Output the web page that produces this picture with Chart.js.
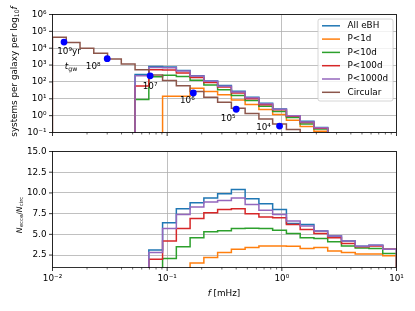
<!DOCTYPE html>
<html>
<head>
<meta charset="utf-8">
<script src="https://cdn.jsdelivr.net/npm/chart.js@4.4.1/dist/chart.umd.min.js"></script>
<style>
  html, body { margin: 0; padding: 0; background: #fff; }
  #wrap { position: relative; width: 415px; height: 311px; }
  #wrap canvas { position: absolute; left: 0; top: 0; }
</style>
</head>
<body>
<div id="wrap">
  <canvas id="countChart" width="415" height="311"></canvas>
  <canvas id="ratioChart" width="415" height="311"></canvas>
</div>
<script>
// 25 log-spaced frequency bins from 10^-2 to 10^1 mHz (edges)
const binEdges = [0.01, 0.01318, 0.01738, 0.02291, 0.03020, 0.03981, 0.05248, 0.06918,
  0.09120, 0.12023, 0.15849, 0.20893, 0.27542, 0.36308, 0.47863, 0.63096, 0.83176,
  1.09648, 1.44544, 1.90546, 2.51189, 3.31131, 4.36516, 5.75440, 7.58578, 10];

// systems per galaxy per log10 f (null = empty bin)
const countCircular = [45000, 22000, 10000, 5100, 2300, 1150, 520, 260, 120, 59, 27, 12.3,
  6.2, 2.7, 1.35, 0.63, 0.32, 0.15, 0.07, 0.035, 0.016, 0.008, 0.004, 0.002, 0.001];
const countAll = [null, null, null, null, null, null, 280, 810, 780, 470, 235, 115,
  61, 28, 12.5, 5.5, 2.5, 0.97, 0.46, 0.2, 0.075, 0.034, 0.014, 0.0074, 0.0032];
const countP1 = [null, null, null, null, null, null, null, null, 14, 14, 42, 27,
  17.5, 8.6, 4.6, 2.3, 1.15, 0.53, 0.23, 0.12, 0.048, 0.022, 0.0105, 0.0052, 0.0024];
const countP10 = [null, null, null, null, null, null, 9, 200, 250, 207, 124, 65,
  34, 15.4, 7.8, 3.6, 1.76, 0.77, 0.32, 0.16, 0.066, 0.029, 0.013, 0.0066, 0.0027];
const countP100 = [null, null, null, null, null, null, 58, 530, 505, 340, 186, 93,
  50, 22, 10, 4.5, 2.2, 0.93, 0.39, 0.18, 0.074, 0.031, 0.014, 0.0072, 0.0032];
const countP1000 = [null, null, null, null, null, null, 230, 730, 690, 440, 225, 110,
  56, 25, 11.6, 5.0, 2.4, 1.0, 0.42, 0.19, 0.077, 0.034, 0.014, 0.0074, 0.0032];

// N_ecc / N_circ per bin (null = below the plotted range)
const ratioAll = [null, null, null, null, null, null, null, 3.1, 6.4, 8.1, 8.8, 9.4,
  9.9, 10.4, 9.3, 8.7, 8.0, 6.3, 6.2, 5.4, 4.8, 4.2, 3.55, 3.7, 3.2];
const ratioP1 = [null, null, null, null, null, null, null, null, null, null, 1.55, 2.22,
  2.82, 3.2, 3.4, 3.6, 3.6, 3.55, 3.3, 3.4, 3.0, 2.8, 2.62, 2.62, 2.42];
const ratioP10 = [null, null, null, null, null, null, null, null, 2.1, 3.5, 4.6, 5.3,
  5.45, 5.7, 5.75, 5.7, 5.5, 5.1, 4.6, 4.5, 4.1, 3.6, 3.35, 3.3, 2.7];
const ratioP100 = [null, null, null, null, null, null, null, 2.0, 4.2, 5.7, 6.9, 7.6,
  8.0, 8.1, 7.5, 7.1, 7.0, 6.2, 5.6, 5.1, 4.6, 3.9, 3.5, 3.6, 3.2];
const ratioP1000 = [null, null, null, null, null, null, null, 2.8, 5.7, 7.4, 8.3, 8.9,
  9.1, 9.4, 8.6, 7.9, 7.4, 6.6, 6.0, 5.4, 4.8, 4.2, 3.55, 3.7, 3.2];

// gravitational-wave inspiral time markers
const tgwF = [0.0126, 0.030, 0.071, 0.169, 0.40, 0.955];
const tgwN = [23000, 2400, 230, 22, 2.4, 0.24];
const tgwLabels = ['10⁹yr', '10⁸', '10⁷', '10⁶', '10⁵', '10⁴'];

const seriesNames = ['All eBH', 'P<1d', 'P<10d', 'P<100d', 'P<1000d', 'Circular'];
const countTicks = [0.1, 1, 10, 100, 1e3, 1e4, 1e5, 1e6];
const ratioTicks = [2.5, 5, 7.5, 10, 12.5, 15];
const freqTicks = [];
[0.01, 0.1, 1].forEach(d => { for (let k = 1; k <= 9; k++) freqTicks.push(+(d * k).toPrecision(3)); });
freqTicks.push(10);

const COLORS = ['#1f77b4', '#ff7f0e', '#2ca02c', '#d62728', '#9467bd', '#8c564b'];
const FONT = '"DejaVu Sans", sans-serif';
const FS = 8.8;
const GRID = '#b0b0b0';

Chart.defaults.font.family = FONT;
Chart.defaults.font.size = FS;
Chart.defaults.color = '#000';

const SUP = { '-': '⁻', '0': '⁰', '1': '¹', '2': '²', '3': '³', '4': '⁴', '5': '⁵', '6': '⁶', '7': '⁷', '8': '⁸', '9': '⁹' };

function isDecade(v) {
    const l = Math.log10(v);
    return Math.abs(l - Math.round(l)) < 1e-6;
}

function powLabel(v) {
    const e = String(Math.round(Math.log10(v)));
    return '10' + e.split('').map(c => SUP[c]).join('');
}

// step outline of a histogram: rise from below the axis, hold each bin, drop at the end
function histLine(values, floor) {
    const first = values.findIndex(v => v !== null);
    const pts = [{ x: binEdges[first], y: floor }];
    for (let i = first; i < values.length; i++) pts.push({ x: binEdges[i], y: values[i] });
    const end = binEdges[values.length];
    pts.push({ x: end, y: values[values.length - 1] });
    pts.push({ x: end, y: floor });
    return pts;
}

function stepSet(label, values, color, order, floor) {
    return {
        label,
        data: histLine(values, floor),
        borderColor: color,
        backgroundColor: color,
        borderWidth: 1.5,
        pointRadius: 0,
        stepped: 'before',
        fill: false,
        clip: 0,
        order
    };
}

function drawRich(ctx, parts, cx, baseline, rotate) {
    ctx.save();
    ctx.translate(cx, baseline);
    if (rotate) ctx.rotate(-Math.PI / 2);
    ctx.textAlign = 'left';
    ctx.textBaseline = 'alphabetic';
    ctx.fillStyle = '#000';
    let total = 0;
    parts.forEach(p => {
        ctx.font = `${p.italic ? 'italic ' : ''}${p.size}px ${FONT}`;
        p.w = ctx.measureText(p.text).width;
        total += p.w;
    });
    let x = -total / 2;
    parts.forEach(p => {
        ctx.font = `${p.italic ? 'italic ' : ''}${p.size}px ${FONT}`;
        ctx.fillText(p.text, x, p.dy || 0);
        x += p.w;
    });
    ctx.restore();
}

const framePlugin = {
    id: 'frame',
    afterDatasetsDraw(chart) {
        const { ctx, chartArea: a, scales } = chart;
        ctx.save();
        ctx.strokeStyle = '#000';
        scales.x.ticks.forEach(t => {
            const px = scales.x.getPixelForValue(t.value);
            const major = isDecade(t.value);
            ctx.lineWidth = major ? 0.8 : 0.6;
            ctx.beginPath();
            ctx.moveTo(px, a.bottom);
            ctx.lineTo(px, a.bottom + (major ? 3.5 : 2));
            ctx.stroke();
        });
        ctx.lineWidth = 0.8;
        scales.y.ticks.forEach(t => {
            const py = scales.y.getPixelForValue(t.value);
            ctx.beginPath();
            ctx.moveTo(a.left - 3.5, py);
            ctx.lineTo(a.left, py);
            ctx.stroke();
        });
        ctx.strokeRect(a.left, a.top, a.right - a.left, a.bottom - a.top);
        ctx.restore();
    }
};

const labelOffsets = [[5, 10], [-14, 8], [0, 11], [-6, 8], [-8, 9], [-16, 2]];

const countPlugin = {
    id: 'countDecor',
    afterDraw(chart) {
        const { ctx, chartArea: a } = chart;
        const meta = chart.getDatasetMeta(chart.data.datasets.findIndex(d => d.label === 'tgw'));

        ctx.save();
        ctx.fillStyle = '#000';
        ctx.font = `${FS}px ${FONT}`;
        ctx.textAlign = 'center';
        ctx.textBaseline = 'middle';
        meta.data.forEach((pt, i) => {
            ctx.fillText(tgwLabels[i], pt.x + labelOffsets[i][0], pt.y + labelOffsets[i][1]);
        });
        const p0 = meta.data[0];
        drawRich(ctx, [
            { text: 't', size: FS, italic: true },
            { text: 'gw', size: 6.2, dy: 2 }
        ], p0.x + 7, p0.y + 26.5, false);

        // legend
        const bw = 75, bh = 82;
        const bx = a.right - 3.5 - bw, by = a.top + 4.5;
        ctx.fillStyle = 'rgba(255,255,255,0.8)';
        ctx.strokeStyle = '#cccccc';
        ctx.lineWidth = 0.8;
        ctx.beginPath();
        ctx.roundRect(bx, by, bw, bh, 2);
        ctx.fill();
        ctx.stroke();
        ctx.textAlign = 'left';
        seriesNames.forEach((name, i) => {
            const ry = by + 6.8 + i * 13.3;
            ctx.strokeStyle = COLORS[i];
            ctx.lineWidth = 1.5;
            ctx.beginPath();
            ctx.moveTo(bx + 4, ry);
            ctx.lineTo(bx + 22, ry);
            ctx.stroke();
            ctx.fillStyle = '#000';
            ctx.fillText(name, bx + 29.5, ry);
        });

        drawRich(ctx, [
            { text: 'systems per galaxy per log', size: FS },
            { text: '10', size: 6.2, dy: 2 },
            { text: 'f', size: FS, italic: true }
        ], 16.5, 71.5, true);
        ctx.restore();
    }
};

const ratioPlugin = {
    id: 'ratioDecor',
    afterDraw(chart) {
        const { ctx } = chart;
        drawRich(ctx, [
            { text: 'N', size: 7.8, italic: true },
            { text: 'ecce', size: 5.4, dy: 1.8 },
            { text: '/', size: 7.8 },
            { text: 'N', size: 7.8, italic: true },
            { text: 'circ', size: 5.4, dy: 1.8 }
        ], 21.5, 215, true);
        drawRich(ctx, [
            { text: 'f', size: FS, italic: true },
            { text: ' [mHz]', size: FS }
        ], 224, 295.5, false);
    }
};

function xScale(showLabels, height) {
    return {
        type: 'logarithmic',
        min: 0.01,
        max: 10,
        afterBuildTicks: s => { s.ticks = freqTicks.map(v => ({ value: v })); },
        afterFit: s => { s.height = height; },
        grid: {
            color: c => (c.tick && isDecade(c.tick.value)) ? GRID : 'rgba(0,0,0,0)',
            lineWidth: 0.8,
            drawTicks: false
        },
        border: { display: false },
        ticks: {
            display: showLabels,
            autoSkip: false,
            maxRotation: 0,
            padding: 6,
            callback: v => isDecade(v) ? powLabel(v) : ''
        }
    };
}

new Chart(document.getElementById('countChart'), {
    type: 'line',
    data: {
        datasets: [
            {
                label: 'tgw',
                data: tgwF.map((f, i) => ({ x: f, y: tgwN[i] })),
                showLine: false,
                pointRadius: 3.4,
                pointBackgroundColor: '#0000ff',
                pointBorderColor: '#0000ff',
                pointBorderWidth: 0,
                clip: false,
                order: 0
            },
            stepSet('Circular', countCircular, COLORS[5], 1, 1e-4),
            stepSet('P<1000d', countP1000, COLORS[4], 2, 1e-4),
            stepSet('P<100d', countP100, COLORS[3], 3, 1e-4),
            stepSet('P<10d', countP10, COLORS[2], 4, 1e-4),
            stepSet('P<1d', countP1, COLORS[1], 5, 1e-4),
            stepSet('All eBH', countAll, COLORS[0], 6, 1e-4)
        ]
    },
    options: {
        responsive: false,
        animation: false,
        events: [],
        layout: { padding: { top: 14.5, right: 18.5, bottom: 0, left: 0 } },
        plugins: { legend: { display: false }, tooltip: { enabled: false } },
        scales: {
            x: xScale(false, 311 - 132.5),
            y: {
                type: 'logarithmic',
                min: 0.1,
                max: 1e6,
                afterBuildTicks: s => { s.ticks = countTicks.map(v => ({ value: v })); },
                afterFit: s => { s.width = 52.5; },
                grid: { color: GRID, lineWidth: 0.8, drawTicks: false },
                border: { display: false },
                ticks: { autoSkip: false, padding: 6, callback: v => powLabel(v) }
            }
        }
    },
    plugins: [framePlugin, countPlugin]
});

new Chart(document.getElementById('ratioChart'), {
    type: 'line',
    data: {
        datasets: [
            stepSet('P<1000d', ratioP1000, COLORS[4], 2, 0),
            stepSet('P<100d', ratioP100, COLORS[3], 3, 0),
            stepSet('P<10d', ratioP10, COLORS[2], 4, 0),
            stepSet('P<1d', ratioP1, COLORS[1], 5, 0),
            stepSet('All eBH', ratioAll, COLORS[0], 6, 0)
        ]
    },
    options: {
        responsive: false,
        animation: false,
        events: [],
        layout: { padding: { top: 151.5, right: 18.5, bottom: 0, left: 0 } },
        plugins: { legend: { display: false }, tooltip: { enabled: false } },
        scales: {
            x: xScale(true, 311 - 267.5),
            y: {
                type: 'linear',
                min: 1,
                max: 15,
                afterBuildTicks: s => { s.ticks = ratioTicks.map(v => ({ value: v })); },
                afterFit: s => { s.width = 52.5; },
                grid: { color: GRID, lineWidth: 0.8, drawTicks: false },
                border: { display: false },
                ticks: { autoSkip: false, padding: 6, callback: v => v.toFixed(1) }
            }
        }
    },
    plugins: [framePlugin, ratioPlugin]
});
</script>
</body>
</html>
